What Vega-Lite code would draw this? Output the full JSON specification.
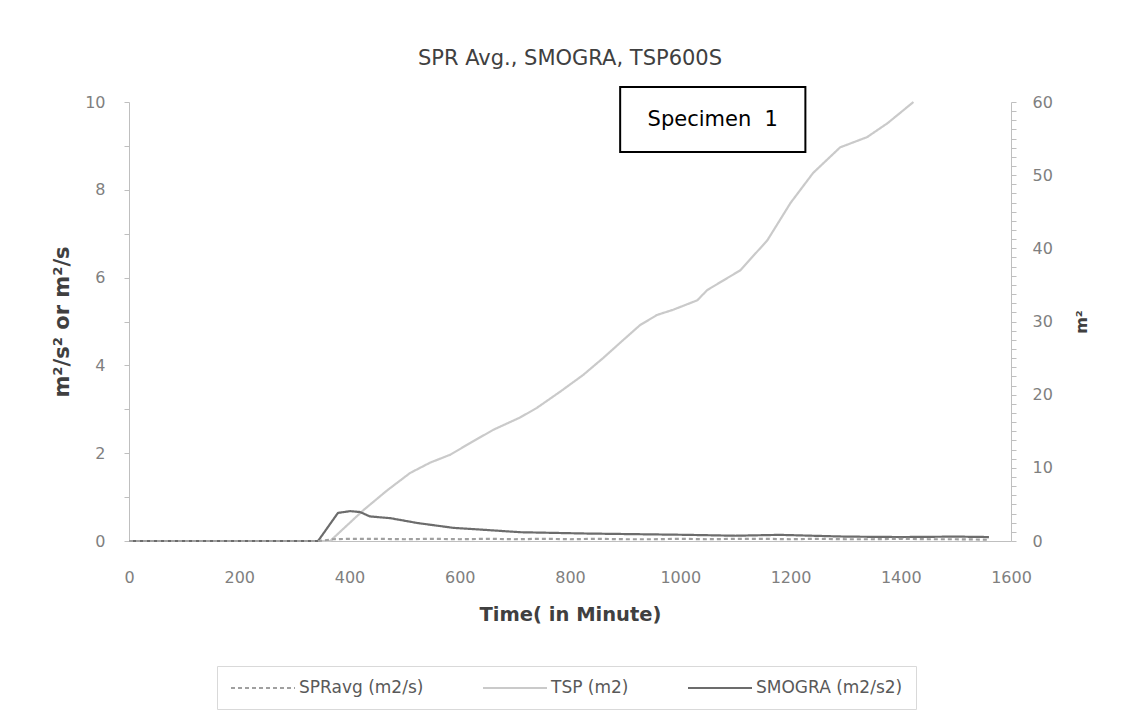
{
  "$schema": "https://vega.github.io/schema/vega-lite/v6.json",
  "width": 882,
  "height": 439,
  "autosize": "none",
  "padding": {"left": 129, "top": 102, "right": 111, "bottom": 186},
  "background": "white",
  "config": {
    "view": {"stroke": null},
    "font": "DejaVu Sans",
    "axis": {
      "grid": false,
      "labelColor": "#7f7f7f",
      "labelFontSize": 16,
      "domainColor": "#bfbfbf",
      "tickColor": "#bfbfbf",
      "titleColor": "#404040",
      "titleFontWeight": "bold",
      "titleFontSize": 19.5
    }
  },
  "title": {
    "text": "SPR Avg.,  SMOGRA, TSP600S",
    "fontSize": 21,
    "fontWeight": "normal",
    "color": "#404040",
    "offset": 17
  },
  "datasets": {
    "left": [
      {"t": 0, "series": "SMOGRA (m2/s2)", "v": 0},
      {"t": 100, "series": "SMOGRA (m2/s2)", "v": 0},
      {"t": 200, "series": "SMOGRA (m2/s2)", "v": 0},
      {"t": 300, "series": "SMOGRA (m2/s2)", "v": 0},
      {"t": 343, "series": "SMOGRA (m2/s2)", "v": 0},
      {"t": 379, "series": "SMOGRA (m2/s2)", "v": 0.64},
      {"t": 401, "series": "SMOGRA (m2/s2)", "v": 0.68},
      {"t": 419, "series": "SMOGRA (m2/s2)", "v": 0.66},
      {"t": 437, "series": "SMOGRA (m2/s2)", "v": 0.56},
      {"t": 474, "series": "SMOGRA (m2/s2)", "v": 0.52},
      {"t": 523, "series": "SMOGRA (m2/s2)", "v": 0.41},
      {"t": 588, "series": "SMOGRA (m2/s2)", "v": 0.3},
      {"t": 650, "series": "SMOGRA (m2/s2)", "v": 0.25},
      {"t": 710, "series": "SMOGRA (m2/s2)", "v": 0.2},
      {"t": 831, "series": "SMOGRA (m2/s2)", "v": 0.17},
      {"t": 1013, "series": "SMOGRA (m2/s2)", "v": 0.14},
      {"t": 1100, "series": "SMOGRA (m2/s2)", "v": 0.12},
      {"t": 1180, "series": "SMOGRA (m2/s2)", "v": 0.14},
      {"t": 1240, "series": "SMOGRA (m2/s2)", "v": 0.12},
      {"t": 1300, "series": "SMOGRA (m2/s2)", "v": 0.1},
      {"t": 1400, "series": "SMOGRA (m2/s2)", "v": 0.09},
      {"t": 1500, "series": "SMOGRA (m2/s2)", "v": 0.1},
      {"t": 1560, "series": "SMOGRA (m2/s2)", "v": 0.09},
      {"t": 0, "series": "SPRavg (m2/s)", "v": 0},
      {"t": 100, "series": "SPRavg (m2/s)", "v": 0},
      {"t": 200, "series": "SPRavg (m2/s)", "v": 0},
      {"t": 300, "series": "SPRavg (m2/s)", "v": 0},
      {"t": 345, "series": "SPRavg (m2/s)", "v": 0},
      {"t": 370, "series": "SPRavg (m2/s)", "v": 0.04},
      {"t": 400, "series": "SPRavg (m2/s)", "v": 0.05},
      {"t": 450, "series": "SPRavg (m2/s)", "v": 0.05},
      {"t": 500, "series": "SPRavg (m2/s)", "v": 0.04},
      {"t": 550, "series": "SPRavg (m2/s)", "v": 0.05},
      {"t": 600, "series": "SPRavg (m2/s)", "v": 0.04},
      {"t": 650, "series": "SPRavg (m2/s)", "v": 0.05},
      {"t": 700, "series": "SPRavg (m2/s)", "v": 0.04},
      {"t": 750, "series": "SPRavg (m2/s)", "v": 0.05},
      {"t": 800, "series": "SPRavg (m2/s)", "v": 0.04},
      {"t": 850, "series": "SPRavg (m2/s)", "v": 0.05},
      {"t": 900, "series": "SPRavg (m2/s)", "v": 0.04},
      {"t": 950, "series": "SPRavg (m2/s)", "v": 0.04},
      {"t": 1000, "series": "SPRavg (m2/s)", "v": 0.05},
      {"t": 1050, "series": "SPRavg (m2/s)", "v": 0.04},
      {"t": 1100, "series": "SPRavg (m2/s)", "v": 0.05},
      {"t": 1150, "series": "SPRavg (m2/s)", "v": 0.05},
      {"t": 1200, "series": "SPRavg (m2/s)", "v": 0.04},
      {"t": 1250, "series": "SPRavg (m2/s)", "v": 0.05},
      {"t": 1300, "series": "SPRavg (m2/s)", "v": 0.04},
      {"t": 1350, "series": "SPRavg (m2/s)", "v": 0.04},
      {"t": 1400, "series": "SPRavg (m2/s)", "v": 0.05},
      {"t": 1450, "series": "SPRavg (m2/s)", "v": 0.04},
      {"t": 1500, "series": "SPRavg (m2/s)", "v": 0.04},
      {"t": 1560, "series": "SPRavg (m2/s)", "v": 0.03}
    ],
    "tsp": [
      {"t": 0, "series": "TSP (m2)", "v": 0},
      {"t": 100, "series": "TSP (m2)", "v": 0},
      {"t": 200, "series": "TSP (m2)", "v": 0},
      {"t": 300, "series": "TSP (m2)", "v": 0},
      {"t": 365, "series": "TSP (m2)", "v": 0},
      {"t": 425, "series": "TSP (m2)", "v": 4.2},
      {"t": 468, "series": "TSP (m2)", "v": 6.9},
      {"t": 510, "series": "TSP (m2)", "v": 9.3},
      {"t": 546, "series": "TSP (m2)", "v": 10.7},
      {"t": 583, "series": "TSP (m2)", "v": 11.8},
      {"t": 619, "series": "TSP (m2)", "v": 13.4},
      {"t": 661, "series": "TSP (m2)", "v": 15.2},
      {"t": 710, "series": "TSP (m2)", "v": 16.9},
      {"t": 740, "series": "TSP (m2)", "v": 18.2},
      {"t": 782, "series": "TSP (m2)", "v": 20.4},
      {"t": 824, "series": "TSP (m2)", "v": 22.7},
      {"t": 860, "series": "TSP (m2)", "v": 25.0},
      {"t": 897, "series": "TSP (m2)", "v": 27.5},
      {"t": 927, "series": "TSP (m2)", "v": 29.5},
      {"t": 958, "series": "TSP (m2)", "v": 30.9},
      {"t": 987, "series": "TSP (m2)", "v": 31.6},
      {"t": 1031, "series": "TSP (m2)", "v": 32.9},
      {"t": 1049, "series": "TSP (m2)", "v": 34.3},
      {"t": 1109, "series": "TSP (m2)", "v": 37.0},
      {"t": 1158, "series": "TSP (m2)", "v": 41.1},
      {"t": 1200, "series": "TSP (m2)", "v": 46.2},
      {"t": 1241, "series": "TSP (m2)", "v": 50.3},
      {"t": 1290, "series": "TSP (m2)", "v": 53.8},
      {"t": 1339, "series": "TSP (m2)", "v": 55.2},
      {"t": 1376, "series": "TSP (m2)", "v": 57.1},
      {"t": 1423, "series": "TSP (m2)", "v": 60.0}
    ],
    "note": [
      {"label": "Specimen \u00a01"}
    ]
  },
  "layer": [
    {
      "data": {"name": "tsp"},
      "mark": {"type": "line", "strokeWidth": 2.2},
      "encoding": {
        "x": {
          "field": "t",
          "type": "quantitative",
          "title": "Time( in Minute)",
          "scale": {"domain": [0, 1600], "nice": false},
          "axis": {"values": [0, 200, 400, 600, 800, 1000, 1200, 1400, 1600], "format": "d", "ticks": false, "labelPadding": 28, "titlePadding": 20, "labelFlush": false}
        },
        "y": {
          "field": "v",
          "type": "quantitative",
          "title": "m²",
          "scale": {"domain": [0, 60], "nice": false},
          "axis": {
            "orient": "right",
            "values": [0,1.25,2.5,3.75,5,6.25,7.5,8.75,10,11.25,12.5,13.75,15,16.25,17.5,18.75,20,21.25,22.5,23.75,25,26.25,27.5,28.75,30,31.25,32.5,33.75,35,36.25,37.5,38.75,40,41.25,42.5,43.75,45,46.25,47.5,48.75,50,51.25,52.5,53.75,55,56.25,57.5,58.75,60],
            "format": "d",
            "labelExpr": "datum.value % 10 === 0 ? datum.label : ''",
            "tickSize": 5,
            "labelPadding": 16,
            "titlePadding": 37,
            "titleAngle": -90,
            "titleFontSize": 16
          }
        },
        "color": {
          "field": "series",
          "type": "nominal",
          "scale": {"domain": ["SPRavg (m2/s)", "TSP (m2)", "SMOGRA (m2/s2)"], "range": ["#a0a0a0", "#cacaca", "#6c6c6c"]},
          "legend": {"title": null, "orient": "none", "legendX": 88, "legendY": 564, "direction": "horizontal", "symbolType": "M-1,0H7", "symbolSize": 256, "symbolStrokeWidth": 2, "labelFontSize": 17, "labelColor": "#595959", "columnPadding": 55, "padding": 13, "strokeColor": "#d9d9d9", "labelOffset": 51}
        },
        "strokeDash": {
          "field": "series",
          "type": "nominal",
          "scale": {"domain": ["SPRavg (m2/s)", "TSP (m2)", "SMOGRA (m2/s2)"], "range": [[4, 3], [1, 0], [1, 0]]},
          "legend": {"title": null, "orient": "none", "legendX": 88, "legendY": 564, "direction": "horizontal", "symbolType": "M-1,0H7", "symbolSize": 256, "symbolStrokeWidth": 2, "labelFontSize": 17, "labelColor": "#595959", "columnPadding": 55, "padding": 13, "strokeColor": "#d9d9d9", "labelOffset": 51}
        }
      }
    },
    {
      "layer": [
        {
          "data": {"name": "left"},
          "mark": {"type": "line", "strokeWidth": 2.2},
          "encoding": {
            "x": {
              "field": "t",
              "type": "quantitative",
              "title": "Time( in Minute)",
              "scale": {"domain": [0, 1600], "nice": false},
              "axis": {"values": [0, 200, 400, 600, 800, 1000, 1200, 1400, 1600], "format": "d", "ticks": false, "labelPadding": 28, "titlePadding": 20, "labelFlush": false}
            },
            "y": {
              "field": "v",
              "type": "quantitative",
              "title": "m²/s² or m²/s",
              "scale": {"domain": [0, 10], "nice": false},
              "axis": {
                "orient": "left",
                "values": [0,0.25,0.5,0.75,1,1.25,1.5,1.75,2,2.25,2.5,2.75,3,3.25,3.5,3.75,4,4.25,4.5,4.75,5,5.25,5.5,5.75,6,6.25,6.5,6.75,7,7.25,7.5,7.75,8,8.25,8.5,8.75,9,9.25,9.5,9.75,10],
                "format": "d",
                "labelExpr": "datum.value % 2 === 0 ? datum.label : ''",
                "tickSize": 5,
                "labelPadding": 19,
                "titlePadding": 12,
                "titleFontSize": 21
              }
            },
            "color": {
              "field": "series",
              "type": "nominal",
              "scale": {"domain": ["SPRavg (m2/s)", "TSP (m2)", "SMOGRA (m2/s2)"], "range": ["#a0a0a0", "#cacaca", "#6c6c6c"]},
              "legend": {"title": null, "orient": "none", "legendX": 88, "legendY": 564, "direction": "horizontal", "symbolType": "M-1,0H7", "symbolSize": 256, "symbolStrokeWidth": 2, "labelFontSize": 17, "labelColor": "#595959", "columnPadding": 55, "padding": 13, "strokeColor": "#d9d9d9", "labelOffset": 51}
            },
            "strokeDash": {
              "field": "series",
              "type": "nominal",
              "scale": {"domain": ["SPRavg (m2/s)", "TSP (m2)", "SMOGRA (m2/s2)"], "range": [[4, 3], [1, 0], [1, 0]]},
              "legend": {"title": null, "orient": "none", "legendX": 88, "legendY": 564, "direction": "horizontal", "symbolType": "M-1,0H7", "symbolSize": 256, "symbolStrokeWidth": 2, "labelFontSize": 17, "labelColor": "#595959", "columnPadding": 55, "padding": 13, "strokeColor": "#d9d9d9", "labelOffset": 51}
            },
            "order": {"field": "series", "sort": "ascending"}
          }
        },
        {
          "data": {"name": "note"},
          "mark": {"type": "rect", "fill": "white", "stroke": "black", "strokeWidth": 2},
          "encoding": {
            "x": {"datum": 891, "type": "quantitative"},
            "x2": {"datum": 1227},
            "y": {"datum": 10.34, "type": "quantitative"},
            "y2": {"datum": 8.86}
          }
        },
        {
          "data": {"name": "note"},
          "mark": {"type": "text", "fontSize": 21, "color": "black", "align": "center", "baseline": "middle"},
          "encoding": {
            "x": {"datum": 1059, "type": "quantitative"},
            "y": {"datum": 9.6, "type": "quantitative"},
            "text": {"field": "label"}
          }
        }
      ]
    }
  ],
  "resolve": {"scale": {"y": "independent"}}
}
